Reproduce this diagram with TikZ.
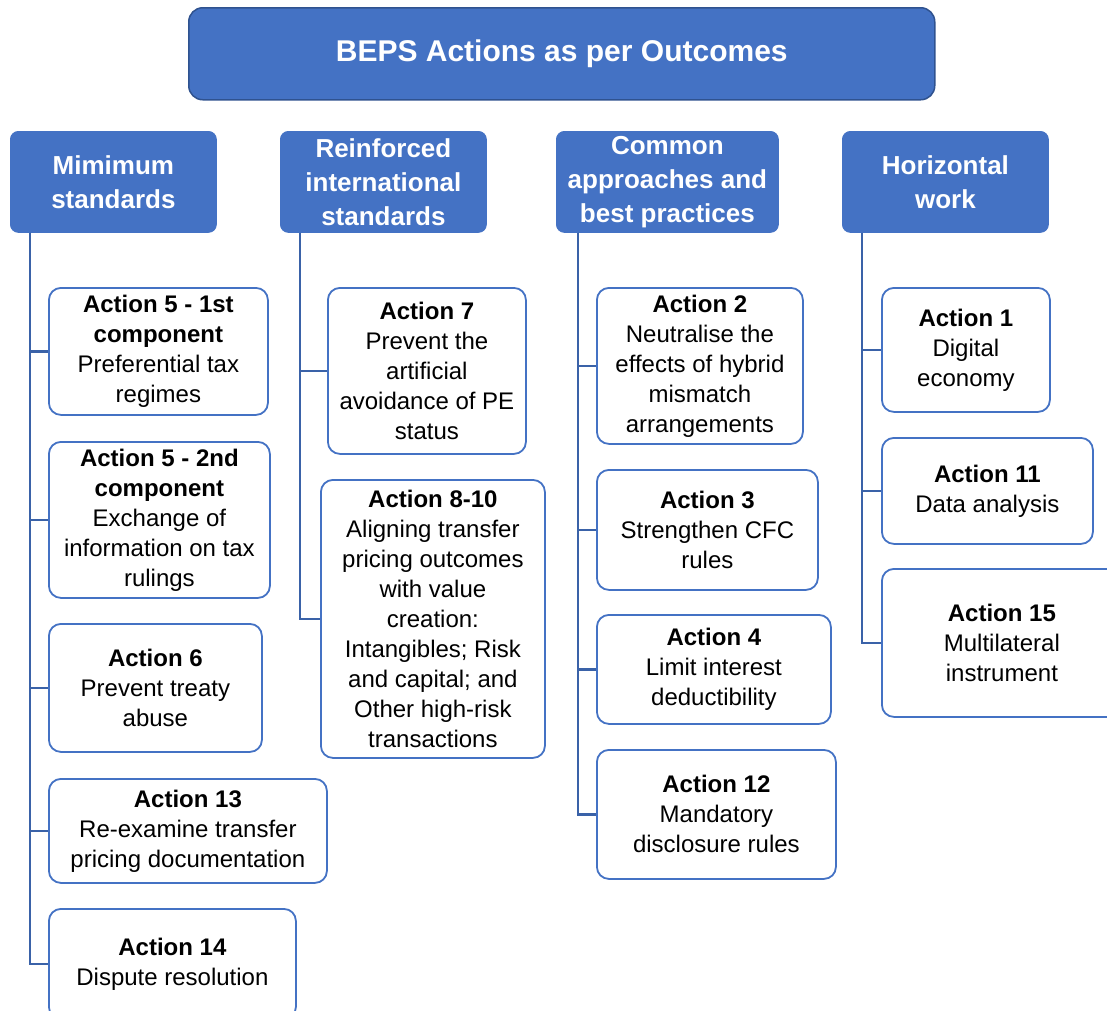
\documentclass[tikz,border=0pt]{standalone}
\usepackage{fontspec}
\setmainfont{Liberation Sans}
\definecolor{blueA}{HTML}{4472C4}
\definecolor{blueB}{HTML}{2F528F}
\definecolor{lineblue}{HTML}{3A62A8}
\tikzset{
  titlebox/.style={draw=blueB, line width=1.5pt, fill=blueA, rounded corners=14pt, text=white, inner sep=0pt, anchor=north west, font=\bfseries\fontsize{30}{36}\selectfont},
  headbox/.style={fill=blueA, draw=blueA, line width=0.8pt, rounded corners=8pt, text=white, align=center, inner sep=0pt, anchor=north west, minimum height=101pt, font=\bfseries\fontsize{26}{34}\selectfont},
  itembox/.style={draw=blueA, line width=1.8pt, fill=white, rounded corners=12pt, align=center, inner sep=0pt, anchor=north west, font=\fontsize{24}{30}\selectfont},
  conn/.style={draw=lineblue, line width=2.5pt}
}
\begin{document}
\begin{tikzpicture}[x=1pt,y=-1pt]
\useasboundingbox (0,0) rectangle (1107,1010);
\node[titlebox, minimum width=746pt, minimum height=92pt] (title) at (188,7) {BEPS Actions as per Outcomes};
\node[headbox, minimum width=206pt] (h1) at (10,131) {Mimimum\\standards};
\node[headbox, minimum width=206pt] (h2) at (280,131) {Reinforced\\international\\standards};
\node[headbox, minimum width=222pt] (h3) at (556,131) {Common\\approaches and\\best practices};
\node[headbox, minimum width=206pt] (h4) at (842,131) {Horizontal\\work};
% column 1
\node[itembox, minimum width=219pt, minimum height=127pt] (c11) at (48,287) {\textbf{Action 5 - 1st}\\\textbf{component}\\Preferential tax\\regimes};
\node[itembox, minimum width=221pt, minimum height=156pt] (c12) at (48,441) {\textbf{Action 5 - 2nd}\\\textbf{component}\\Exchange of\\information on tax\\rulings};
\node[itembox, minimum width=213pt, minimum height=128pt] (c13) at (48,623) {\textbf{Action 6}\\Prevent treaty\\abuse};
\node[itembox, minimum width=278pt, minimum height=104pt] (c14) at (48,778) {\textbf{Action 13}\\Re-examine transfer\\pricing documentation};
\node[itembox, minimum width=247pt, minimum height=110pt] (c15) at (48,908) {\textbf{Action 14}\\Dispute resolution};
% column 2
\node[itembox, minimum width=198pt, minimum height=166pt] (c21) at (327,287) {\textbf{Action 7}\\Prevent the\\artificial\\avoidance of PE\\status};
\node[itembox, minimum width=224pt, minimum height=278pt] (c22) at (320,479) {\textbf{Action 8-10}\\Aligning transfer\\pricing outcomes\\with value\\creation:\\Intangibles; Risk\\and capital; and\\Other high-risk\\transactions};
% column 3
\node[itembox, minimum width=206pt, minimum height=156pt] (c31) at (596,287) {\textbf{Action 2}\\Neutralise the\\effects of hybrid\\mismatch\\arrangements};
\node[itembox, minimum width=221pt, minimum height=120pt] (c32) at (596,469) {\textbf{Action 3}\\Strengthen CFC\\rules};
\node[itembox, minimum width=234pt, minimum height=109pt] (c33) at (596,614) {\textbf{Action 4}\\Limit interest\\deductibility};
\node[itembox, minimum width=239pt, minimum height=129pt] (c34) at (596,749) {\textbf{Action 12}\\Mandatory\\disclosure rules};
% column 4
\node[itembox, minimum width=168pt, minimum height=124pt] (c41) at (881,287) {\textbf{Action 1}\\Digital\\economy};
\node[itembox, minimum width=211pt, minimum height=106pt] (c42) at (881,437) {\textbf{Action 11}\\Data analysis};
\node[itembox, minimum width=240pt, minimum height=148pt] (c43) at (881,568) {\textbf{Action 15}\\Multilateral\\instrument};
% connectors
\foreach \c in {c11,c12,c13,c14,c15} \draw[conn] ([xshift=20pt]h1.south west) |- (\c.west);
\foreach \c in {c21,c22} \draw[conn] ([xshift=20pt]h2.south west) |- (\c.west);
\foreach \c in {c31,c32,c33,c34} \draw[conn] ([xshift=22pt]h3.south west) |- (\c.west);
\foreach \c in {c41,c42,c43} \draw[conn] ([xshift=20pt]h4.south west) |- (\c.west);
\end{tikzpicture}
\end{document}
